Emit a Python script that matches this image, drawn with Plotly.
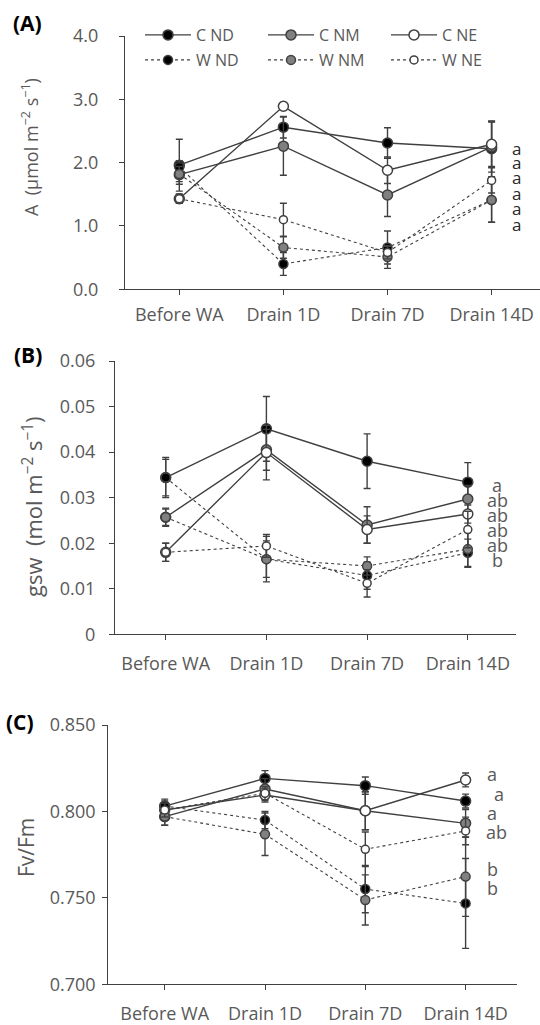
import plotly.graph_objects as go

W, H = 540, 1025

cats = ["Before WA", "Drain 1D", "Drain 7D", "Drain 14D"]
series = ["C ND", "C NM", "C NE", "W ND", "W NM", "W NE"]

# Panel A: net photosynthesis A (umol m-2 s-1)
A_vals = {
    "C ND": [1.96, 2.56, 2.31, 2.22],
    "C NM": [1.81, 2.26, 1.49, 2.25],
    "C NE": [1.43, 2.89, 1.88, 2.29],
    "W ND": [1.93, 0.40, 0.66, 1.41],
    "W NM": [1.82, 0.66, 0.51, 1.41],
    "W NE": [1.43, 1.10, 0.58, 1.72],
}
A_err = {
    "C ND": [0.41, 0.17, 0.24, 0.44],
    "C NM": [0.15, 0.46, 0.34, 0.40],
    "C NE": [0.07, 0.06, 0.21, 0.35],
    "W ND": [0.10, 0.18, 0.26, 0.35],
    "W NM": [0.12, 0.17, 0.18, 0.35],
    "W NE": [0.07, 0.26, 0.10, 0.20],
}
# Panel B: stomatal conductance gsw
B_vals = {
    "C ND": [0.0344, 0.0451, 0.0380, 0.0334],
    "C NM": [0.0257, 0.0405, 0.0240, 0.0297],
    "C NE": [0.0180, 0.0399, 0.0230, 0.0264],
    "W ND": [0.0344, 0.0165, 0.0129, 0.0179],
    "W NM": [0.0257, 0.0165, 0.0150, 0.0187],
    "W NE": [0.0180, 0.0194, 0.0112, 0.0230],
}
B_err = {
    "C ND": [0.0044, 0.0071, 0.0060, 0.0043],
    "C NM": [0.0018, 0.0045, 0.0040, 0.0030],
    "C NE": [0.0020, 0.0060, 0.0030, 0.0020],
    "W ND": [0.0040, 0.0040, 0.0030, 0.0030],
    "W NM": [0.0020, 0.0050, 0.0020, 0.0040],
    "W NE": [0.0020, 0.0025, 0.0030, 0.0040],
}
# Panel C: Fv/Fm
C_vals = {
    "C ND": [0.8031, 0.8191, 0.8149, 0.8060],
    "C NM": [0.7970, 0.8130, 0.8004, 0.7931],
    "C NE": [0.8008, 0.8095, 0.8004, 0.8182],
    "W ND": [0.8031, 0.7950, 0.7551, 0.7468],
    "W NM": [0.7970, 0.7868, 0.7488, 0.7623],
    "W NE": [0.8008, 0.8105, 0.7781, 0.7887],
}
C_err = {
    "C ND": [0.003, 0.0045, 0.005, 0.004],
    "C NM": [0.005, 0.006, 0.011, 0.008],
    "C NE": [0.004, 0.004, 0.011, 0.004],
    "W ND": [0.004, 0.005, 0.0137, 0.026],
    "W NM": [0.005, 0.0123, 0.0145, 0.023],
    "W NE": [0.004, 0.004, 0.010, 0.008],
}

letters_A = ["a", "a", "a", "a", "a", "a"]
letters_A_y = [2.22, 2.00, 1.76, 1.52, 1.28, 1.03]
letters_B = ["a", "ab", "ab", "ab", "ab", "b"]
letters_B_y = [0.0328, 0.0295, 0.0262, 0.0229, 0.0196, 0.0163]
letters_C = ["a", "a", "a", "ab", "b", "b"]
letters_C_y = [0.8215, 0.8101, 0.7993, 0.7879, 0.7665, 0.7555]
letters_C_x = [3.26, 3.33, 3.26, 3.31, 3.27, 3.27]

# ---------- styling ----------
FONT = "Open Sans"
GRAY_TXT = "#595959"
LINE_C = "#404040"
styles = {
    "C ND": dict(fill="#000000", dash="solid", size=10),
    "C NM": dict(fill="#808080", dash="solid", size=10),
    "C NE": dict(fill="#ffffff", dash="solid", size=10),
    "W ND": dict(fill="#000000", dash="dot", size=9),
    "W NM": dict(fill="#808080", dash="dot", size=9),
    "W NE": dict(fill="#ffffff", dash="dot", size=8),
}

def px_x(p):
    return p / W

def px_y(p):
    return 1 - p / H

fig = go.Figure()

panels = [
    ("x", "y", A_vals, A_err, True),
    ("x2", "y2", B_vals, B_err, False),
    ("x3", "y3", C_vals, C_err, False),
]
for xa, ya, vals, errs, show in panels:
    for s in series:
        st = styles[s]
        fig.add_trace(go.Scatter(
            x=list(range(len(cats))), y=vals[s], name=s,
            xaxis=xa, yaxis=ya, mode="lines+markers",
            showlegend=show, legendgroup=s,
            legend="legend" if s.startswith("C") else "legend2",
            line=dict(color=LINE_C, width=1.4 if st["dash"] == "solid" else 1.1, dash=st["dash"]),
            marker=dict(size=st["size"], color=st["fill"], line=dict(color=LINE_C, width=1.5)),
            error_y=dict(type="data", array=errs[s], visible=True, color=LINE_C, thickness=1.4, width=3.5),
        ))

axis_common = dict(showline=True, linecolor=LINE_C, linewidth=1.3, showgrid=False, zeroline=False,
                   ticks="outside", tickcolor=LINE_C, ticklen=5, tickwidth=1.2, automargin=False,
                   tickfont=dict(family=FONT, size=18, color=GRAY_TXT))

def xaxis(dom, rng, anchor, standoff):
    return dict(axis_common, domain=dom, range=rng, anchor=anchor, tickmode="array",
                tickvals=list(range(len(cats))), ticktext=cats, ticklabelstandoff=standoff)

legend_common = dict(orientation="h", x=px_x(140), xanchor="left", yanchor="top",
                     entrywidth=62, entrywidthmode="pixels", itemwidth=46,
                     font=dict(family=FONT, size=16, color=GRAY_TXT), bgcolor="rgba(0,0,0,0)",
                     tracegroupgap=0, traceorder="normal")

# pixel geometry
# A: y=0 at 289.3, 4 at 36; x axis at 125, cats at 179.3 + 104.1 i
# B: y=0 at 634.3, 0.06 at 361; axis at 115, cats 165.7 + 100.7 i
# C: y=0.70 at 984.3, 0.85 at 725; axis at 108.3, cats 164.7 + 100.3 i
fig.update_layout(
    width=W, height=H, margin=dict(l=0, r=0, t=0, b=0, autoexpand=False),
    paper_bgcolor="white", plot_bgcolor="white",
    font=dict(family=FONT, color=GRAY_TXT),
    xaxis=xaxis([px_x(125), 1.0], [(125 - 179.3) / 104.1, (540 - 179.3) / 104.1], "y", 4),
    yaxis=dict(axis_common, domain=[px_y(289.3), px_y(36)], range=[0, 4], anchor="x",
               tickvals=[0, 1, 2, 3, 4], tickformat=".1f", ticklabelstandoff=17),
    xaxis2=xaxis([px_x(115), px_x(516)], [(115 - 165.7) / 100.7, (516 - 165.7) / 100.7], "y2", 8),
    yaxis2=dict(axis_common, domain=[px_y(634.3), px_y(361)], range=[0, 0.06], anchor="x2",
                tickvals=[0, 0.01, 0.02, 0.03, 0.04, 0.05, 0.06],
                ticktext=["0", "0.01", "0.02", "0.03", "0.04", "0.05", "0.06"], ticklabelstandoff=10),
    xaxis3=xaxis([px_x(108.3), px_x(516.7)], [(108.3 - 164.7) / 100.3, (516.7 - 164.7) / 100.3], "y3", 8),
    yaxis3=dict(axis_common, domain=[px_y(984.3), px_y(725)], range=[0.70, 0.85], anchor="x3",
                tickvals=[0.70, 0.75, 0.80, 0.85], tickformat=".3f", ticklabelstandoff=3),
    legend=dict(legend_common, y=px_y(18)),
    legend2=dict(legend_common, y=px_y(43)),
)

ann = []
for lab, xp, yp in [("(A)", 27, 23), ("(B)", 28, 355), ("(C)", 20, 722)]:
    ann.append(dict(text="<b>%s</b>" % lab, x=px_x(xp), y=px_y(yp), xref="paper", yref="paper",
                    showarrow=False, xanchor="center", yanchor="middle",
                    font=dict(family=FONT, size=21, color="#000000")))
titles = [("A  (μmol m<sup>−2</sup> s<sup>−1</sup>)", 30, 147, 18),
          ("gsw  (mol m<sup>−2</sup> s<sup>−1</sup>)", 32, 507, 22),
          ("Fv/Fm", 26, 848, 21)]
for txt, xp, yp, fs in titles:
    ann.append(dict(text=txt, x=px_x(xp), y=px_y(yp), xref="paper", yref="paper",
                    textangle=-90, showarrow=False, xanchor="center", yanchor="middle",
                    font=dict(family=FONT, size=fs, color=GRAY_TXT)))
for t, yv in zip(letters_A, letters_A_y):
    ann.append(dict(text=t, x=3.24, y=yv, xref="x", yref="y", showarrow=False,
                    font=dict(family=FONT, size=17, color="#262626")))
for t, yv in zip(letters_B, letters_B_y):
    ann.append(dict(text=t, x=3.29, y=yv, xref="x2", yref="y2", showarrow=False,
                    font=dict(family=FONT, size=18, color=GRAY_TXT)))
for t, xv, yv in zip(letters_C, letters_C_x, letters_C_y):
    ann.append(dict(text=t, x=xv, y=yv, xref="x3", yref="y3", showarrow=False,
                    font=dict(family=FONT, size=18, color=GRAY_TXT)))
fig.update_layout(annotations=ann)

fig.write_html("out.html", config={"displayModeBar": False},
               post_script="document.body.style.margin='0px';document.body.style.overflow='hidden';")
